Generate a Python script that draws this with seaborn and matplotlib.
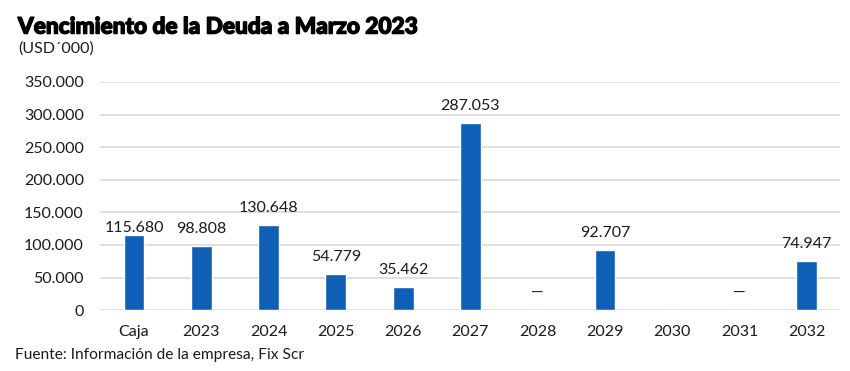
import numpy as np
import pandas as pd
import seaborn as sns
import matplotlib.pyplot as plt
import matplotlib.patheffects as pe

# values in USD'000
categories = ['Caja', '2023', '2024', '2025', '2026', '2027', '2028', '2029', '2030', '2031', '2032']
values = [115680, 98808, 130648, 54779, 35462, 287053, 0, 92707, 0, 0, 74947]
labels = ['115.680', '98.808', '130.648', '54.779', '35.462', '287.053', '—', '92.707', '', '—', '74.947']
yticks = [0, 50000, 100000, 150000, 200000, 250000, 300000, 350000]

sns.set_theme(style='white')
plt.rcParams['font.family'] = ['Lato', 'DejaVu Sans']

df = pd.DataFrame({'cat': categories, 'val': values})

fig = plt.figure(figsize=(8.5, 3.71), dpi=100)
ax = fig.add_axes([0.1181, 0.164, 0.8706, 0.615])

sns.barplot(data=df, x='cat', y='val', color='#0F5FB6', width=0.31, saturation=1, ax=ax)

for i, (v, lab) in enumerate(zip(values, labels)):
    if lab == '—':
        ax.text(i, v + 27000, lab, ha='center', va='center', fontsize=11.5, color='#1a1a1a')
    elif i == 0:
        # Caja label sits closer to its bar in the original
        ax.text(i, v + 4500, lab, ha='center', va='baseline', fontsize=11.5, color='#1a1a1a')
    else:
        ax.text(i, v + 20000, lab, ha='center', va='baseline', fontsize=11.5, color='#1a1a1a')

ax.set_ylim(0, 350000)
ax.set_xlim(-0.5, len(categories) - 0.5)
ax.set_yticks(yticks)
ax.set_yticklabels(['0' if t == 0 else f'{t:,}'.replace(',', '.') for t in yticks])
ax.yaxis.grid(True, color='#D9D9D9', linewidth=1.2)
ax.set_axisbelow(True)
for s in ax.spines.values():
    s.set_visible(False)
ax.tick_params(axis='both', length=0, labelsize=11.5, colors='#1a1a1a')
ax.tick_params(axis='x', pad=11)
ax.tick_params(axis='y', pad=12)
ax.set_xlabel('')
ax.set_ylabel('')

fig.text(0.021, 0.927, 'Vencimiento de la Deuda a Marzo 2023', fontsize=16.3, fontweight='black',
         color='black', ha='left', va='center',
         path_effects=[pe.withStroke(linewidth=1.0, foreground='black')])
fig.text(0.021, 0.868, '(USD´000)', fontsize=11.5, color='#1a1a1a', ha='left', va='center')
fig.text(0.018, 0.042, 'Fuente: Información de la empresa, Fix Scr', fontsize=11.2, color='#1a1a1a',
         ha='left', va='center')

fig.savefig('out.png', dpi=100, facecolor='white')
